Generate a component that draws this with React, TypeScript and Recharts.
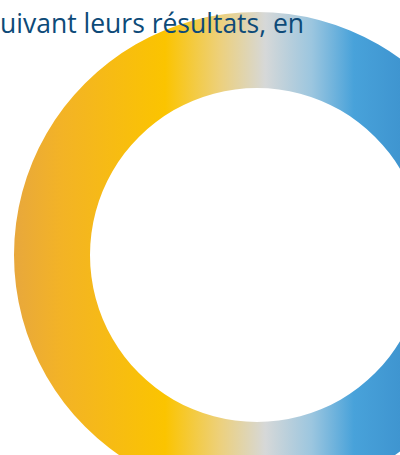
import React from 'react';
import { PieChart, Pie, Cell } from 'recharts';

// a single ring, cut by the frame of the picture
const categories = ['Résultats'];
const values = [100];
const titleText = 'uivant leurs résultats, en';

const data = categories.map((name, i) => ({ name, value: values[i] }));

const ringStops = [
  { offset: '0%', color: '#E8A83C' },
  { offset: '12%', color: '#F3B326' },
  { offset: '39%', color: '#FBC400' },
  { offset: '53%', color: '#EDD07A' },
  { offset: '65%', color: '#D6D8D8' },
  { offset: '77%', color: '#9CC6DF' },
  { offset: '88%', color: '#48A2DA' },
  { offset: '100%', color: '#3F95D0' },
];

export default function App() {
  return (
    <div style={{ position: 'absolute', left: 0, top: 0, width: 400, height: 455, overflow: 'hidden', background: '#fff' }}>
      <PieChart width={400} height={455} margin={{ top: 0, right: 0, bottom: 0, left: 0 }}>
        <defs>
          <linearGradient id="ringGrad" gradientUnits="userSpaceOnUse" x1={15} y1={0} x2={400} y2={0}>
            {ringStops.map((s) => (
              <stop key={s.offset} offset={s.offset} stopColor={s.color} />
            ))}
          </linearGradient>
        </defs>
        <Pie
          data={data}
          dataKey="value"
          cx={257}
          cy={255}
          innerRadius={167}
          outerRadius={243}
          startAngle={90}
          endAngle={-270}
          stroke="none"
          isAnimationActive={false}
        >
          {data.map((d, idx) => (
            <Cell key={`cell-${idx}`} fill="url(#ringGrad)" />
          ))}
        </Pie>
      </PieChart>
      <div
        style={{
          position: 'absolute',
          left: 0,
          top: 5,
          fontFamily: '"Open Sans", sans-serif',
          fontSize: 26.5,
          lineHeight: '36px',
          color: '#0D4A78',
          whiteSpace: 'nowrap',
        }}
      >
        {titleText}
      </div>
    </div>
  );
}
